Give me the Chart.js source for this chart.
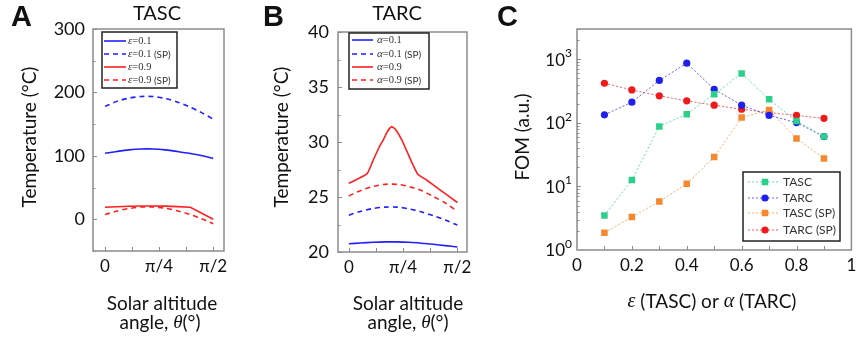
<!DOCTYPE html>
<html>
<head>
<meta charset="utf-8">
<script src="https://cdn.jsdelivr.net/npm/chart.js@4"></script>
<style>
body{margin:0;background:#fff;}
#page{position:relative;width:856px;height:345px;overflow:hidden;background:#fff;}
canvas{position:absolute;top:0;}
</style>
</head>
<body>
<div id="page">
<canvas id="chartA" width="290" height="345" style="left:0px"></canvas>
<canvas id="chartB" width="250" height="345" style="left:255px"></canvas>
<canvas id="chartC" width="366" height="345" style="left:490px"></canvas>
</div>
<script>
// A - TASC, temperature (°C) vs solar altitude (deg)
const thetaA=[0,10,20,30,40,50,60,70,80,90];
const tascBlue=[104,107,109.5,110.8,110.8,109.5,107,104,100.5,96];
const tascBlueSP=[178,186,191,193.5,193.5,190.5,185,177.5,168.5,158];
const thetaTascRed=[0,10,20,30,40,50,60,71,90];
const tascRed=[19,19.8,20.5,21,21,20.7,20,19,0];
const tascRedSP=[7.5,13,17,19.3,19.3,17.5,13.5,8,1,-7];

// B - TARC
const thetaB=[0,10,20,30,40,50,60,70,80,90];
const tarcBlue=[20.75,20.82,20.88,20.92,20.92,20.88,20.8,20.7,20.58,20.45];
const tarcBlueSP=[23.35,23.7,23.95,24.08,24.08,23.92,23.65,23.3,22.9,22.45];
const thetaTarcRed=[0,15,20,25,28.6,32,35.6,39,43.9,48,52,57,65,75,90];
const tarcRed=[26.25,27.1,28.3,29.5,30.2,30.95,31.4,31.1,30.2,29.2,28.2,27.1,26.5,25.7,24.5];
const tarcRedSP=[25.1,25.6,25.95,26.15,26.15,25.95,25.6,25.05,24.45,23.7];

// C - FOM vs epsilon / alpha
const fomX=[0.1,0.2,0.3,0.4,0.5,0.6,0.7,0.8,0.9];
const fomTASC=[3.5,12.6,88,137,283,600,235,107,61];
const fomTARC=[134,212,465,870,338,190,131,101,61];
const fomTASCSP=[1.87,3.3,5.8,11,29,121,160,57,27.5];
const fomTARCSP=[420,330,267,222,190,164,145,131,118];

const angleLabels={0:'0',45:'\u03c0/4',90:'\u03c0/2'};
const fomLabels={0:'0',0.2:'0.2',0.4:'0.4',0.6:'0.6',0.8:'0.8',1:'1'};

const SANS="Lato, 'Open Sans', sans-serif";
const SERIF="'Liberation Serif', 'DejaVu Serif', serif";
const BLUE='#2020ff', RED='#ff2020';

function pts(xs,ys){return xs.map((x,i)=>({x:x,y:ys[i]}));}

function drawParts(ctx,parts,x,y,align){
    let w=0;
    parts.forEach(p=>{ctx.font=p.f;w+=ctx.measureText(p.t).width;});
    let cx=align=='center'?x-w/2:(align=='right'?x-w:x);
    ctx.textAlign='left';
    parts.forEach(p=>{ctx.font=p.f;ctx.fillText(p.t,cx,y);cx+=ctx.measureText(p.t).width;});
}

function decor(cfg){
    return {
        id:'decor',
        afterDraw(chart){
            const ctx=chart.ctx, a=chart.chartArea, sx=chart.scales.x, sy=chart.scales.y;
            ctx.save();
            // inward ticks
            ctx.strokeStyle='#8c8c8c';
            ctx.lineWidth=1;
            ctx.beginPath();
            cfg.xTicks.forEach(v=>{const x=Math.round(sx.getPixelForValue(v))+0.5;ctx.moveTo(x,a.bottom);ctx.lineTo(x,a.bottom-4);});
            cfg.yTicks.forEach(v=>{const y=Math.round(sy.getPixelForValue(v))+0.5;ctx.moveTo(a.left,y);ctx.lineTo(a.left+4,y);});
            (cfg.yMinor||[]).forEach(v=>{const y=Math.round(sy.getPixelForValue(v))+0.5;ctx.moveTo(a.left,y);ctx.lineTo(a.left+2.5,y);});
            ctx.stroke();
            // frame
            ctx.lineWidth=1.5;
            ctx.strokeRect(a.left,a.top,a.right-a.left,a.bottom-a.top);

            ctx.fillStyle='#111';
            ctx.textBaseline='middle';
            // log tick labels 10^n
            if(cfg.logLabels){
                cfg.logLabels.forEach((v,k)=>{
                    const y=sy.getPixelForValue(v);
                    ctx.font='12px '+SANS;
                    const ew=ctx.measureText(String(k)).width;
                    ctx.textAlign='left';
                    ctx.fillText(String(k),a.left-5-ew,y-6);
                    ctx.font='17px '+SANS;
                    ctx.textAlign='right';
                    ctx.fillText('10',a.left-5-ew,y+1);
                });
            }
            // titles and labels
            cfg.texts.forEach(t=>{
                ctx.save();
                ctx.translate(t.x-cfg.ox,t.y);
                if(t.rot)ctx.rotate(-Math.PI/2);
                drawParts(ctx,t.parts,0,0,t.align||'center');
                ctx.restore();
            });
            // legend
            const L=cfg.legend;
            const bx=L.x-cfg.ox, by=L.y;
            ctx.fillStyle='#fff';
            ctx.fillRect(bx,by,L.w,L.h);
            ctx.strokeStyle='#222';
            ctx.lineWidth=1.5;
            ctx.strokeRect(bx,by,L.w,L.h);
            chart.data.datasets.forEach((ds,i)=>{
                const y=by+L.rows[i];
                ctx.strokeStyle=ds.borderColor;
                ctx.lineWidth=ds.borderWidth;
                ctx.setLineDash(ds.borderDash||[]);
                ctx.beginPath();
                ctx.moveTo(bx+L.l0,y);
                ctx.lineTo(bx+L.l1,y);
                ctx.stroke();
                ctx.setLineDash([]);
                if(ds.pointRadius>0){
                    ctx.fillStyle=ds.pointBackgroundColor;
                    const mx=bx+L.m;
                    if(ds.pointStyle=='rect'){
                        const s=ds.pointRadius*Math.SQRT1_2;
                        ctx.fillRect(mx-s,y-s,2*s,2*s);
                    }else{
                        ctx.beginPath();
                        ctx.arc(mx,y,ds.pointRadius,0,Math.PI*2);
                        ctx.fill();
                    }
                }
                ctx.fillStyle='#333';
                drawParts(ctx,L.labels[i],bx+L.t,y+0.5,'left');
            });
            ctx.restore();
        }
    };
}

function options(o){
    return {
        responsive:false,
        animation:false,
        events:[],
        layout:{padding:o.pad},
        plugins:{legend:{display:false},tooltip:{enabled:false}},
        elements:{point:{radius:0}},
        scales:{
            x:{
                type:'linear',min:o.xmin,max:o.xmax,
                grid:{display:false,drawTicks:false},
                border:{display:false},
                afterBuildTicks:s=>{s.ticks=o.xLabelTicks.map(v=>({value:v}));},
                afterFit:s=>{s.height=30;s.paddingLeft=0;s.paddingRight=0;},
                ticks:{autoSkip:false,maxRotation:0,padding:5,color:'#111',font:{family:SANS,size:17},callback:v=>o.xLabel[v]}
            },
            y:{
                type:o.ytype||'linear',min:o.ymin,max:o.ymax,
                grid:{display:false,drawTicks:false},
                border:{display:false},
                afterBuildTicks:s=>{s.ticks=o.yLabelTicks.map(v=>({value:v}));},
                afterFit:s=>{s.width=o.yw;s.paddingTop=0;s.paddingBottom=0;},
                ticks:{display:o.yTickShow,autoSkip:false,padding:o.ypad||8,color:'#111',font:{family:SANS,size:18}}
            }
        }
    };
}

function tempSet(xs,ys,color,dashed,tension){
    return {data:pts(xs,ys),borderColor:color,borderWidth:1.6,borderDash:dashed?[5,4]:[],pointRadius:0,tension:tension};
}

const leg=(sym,val,sp)=>{
    const p=[{t:sym,f:'italic 11px '+SERIF},{t:'='+val,f:'10.5px '+SERIF}];
    if(sp)p.push({t:' (SP)',f:'10px '+SANS});
    return p;
};
const T19='19px '+SANS;
const LETTER="bold 29px 'Liberation Sans', Arial, sans-serif";
const thetaLine=[{t:'angle, ',f:T19},{t:'\u03b8',f:'italic 19px '+SERIF},{t:'(\u00b0)',f:T19}];

// ---------- A ----------
new Chart(document.getElementById('chartA'),{
    type:'line',
    data:{datasets:[
        tempSet(thetaA,tascBlue,BLUE,false,0.3),
        tempSet(thetaA,tascBlueSP,BLUE,true,0.3),
        tempSet(thetaTascRed,tascRed,RED,false,0),
        tempSet(thetaA,tascRedSP,RED,true,0.3)
    ]},
    options:options({pad:{left:33,top:29,right:66,bottom:64},xmin:-10,xmax:99,ymin:-50,ymax:300,
        xLabelTicks:[0,45,90],xLabel:angleLabels,yLabelTicks:[0,100,200,300],yw:60,yTickShow:true}),
    plugins:[decor({ox:0,xTicks:[0,22.5,45,67.5,90],yTicks:[0,100,200,300],yMinor:[-50,50,150,250],
        texts:[
            {parts:[{t:'A',f:LETTER}],x:11,y:18,align:'left'},
            {parts:[{t:'TASC',f:'20px '+SANS}],x:157,y:14},
            {parts:[{t:'Temperature (\u00b0C)',f:T19}],x:30,y:137,rot:true},
            {parts:[{t:'Solar altitude',f:T19}],x:162,y:304},
            {parts:thetaLine,x:160,y:323}
        ],
        legend:{x:102,y:32,w:75,h:56,rows:[9,22,35,48],l0:2,l1:24,t:26,m:0,
            labels:[leg('\u03b5','0.1',false),leg('\u03b5','0.1',true),leg('\u03b5','0.9',false),leg('\u03b5','0.9',true)]}
    })]
});

// ---------- B ----------
new Chart(document.getElementById('chartB'),{
    type:'line',
    data:{datasets:[
        tempSet(thetaB,tarcBlue,BLUE,false,0.3),
        tempSet(thetaB,tarcBlueSP,BLUE,true,0.3),
        tempSet(thetaTarcRed,tarcRed,RED,false,0.15),
        tempSet(thetaB,tarcRedSP,RED,true,0.3)
    ]},
    options:options({pad:{left:33,top:32,right:38,bottom:63},xmin:-9,xmax:98,ymin:20,ymax:40,
        xLabelTicks:[0,45,90],xLabel:angleLabels,yLabelTicks:[20,25,30,35,40],yw:50,yTickShow:true,ypad:9}),
    plugins:[decor({ox:255,xTicks:[0,22.5,45,67.5,90],yTicks:[20,25,30,35,40],yMinor:[22.5,27.5,32.5,37.5],
        texts:[
            {parts:[{t:'B',f:LETTER}],x:263,y:18,align:'left'},
            {parts:[{t:'TARC',f:'20px '+SANS}],x:397,y:14},
            {parts:[{t:'Temperature (\u00b0C)',f:T19}],x:282,y:137,rot:true},
            {parts:[{t:'Solar altitude',f:T19}],x:408,y:304},
            {parts:thetaLine,x:408,y:323}
        ],
        legend:{x:349,y:33,w:80,h:56,rows:[7,21,34,47],l0:3,l1:24,t:28,m:0,
            labels:[leg('\u03b1','0.1',false),leg('\u03b1','0.1',true),leg('\u03b1','0.9',false),leg('\u03b1','0.9',true)]}
    })]
});

// ---------- C ----------
function fomSet(ys,color,style,r){
    return {data:pts(fomX,ys),borderColor:color+'b0',borderWidth:1,borderDash:[2,2],
        pointStyle:style,pointRadius:r,pointBackgroundColor:color,pointBorderWidth:0,tension:0};
}
const minorLog=[];
[1,10,100,1000].forEach(d=>{for(let k=2;k<=9;k++){if(d*k<=3000)minorLog.push(d*k);}});

new Chart(document.getElementById('chartC'),{
    type:'line',
    data:{datasets:[
        fomSet(fomTASC,'#2ccf8a','rect',4.6),
        fomSet(fomTARC,'#1f1fee','circle',3.6),
        fomSet(fomTASCSP,'#f5882e','rect',4.6),
        fomSet(fomTARCSP,'#f01a1a','circle',3.6)
    ]},
    options:options({pad:{left:37,top:29,right:3,bottom:65},xmin:0,xmax:1,ytype:'logarithmic',ymin:1,ymax:3000,
        xLabelTicks:[0,0.2,0.4,0.6,0.8,1],xLabel:fomLabels,yLabelTicks:[1,10,100,1000],yw:50,yTickShow:false}),
    plugins:[decor({ox:490,xTicks:[0.1,0.2,0.3,0.4,0.5,0.6,0.7,0.8,0.9],yTicks:[10,100,1000],yMinor:minorLog,
        logLabels:[1,10,100,1000],
        texts:[
            {parts:[{t:'C',f:LETTER}],x:497,y:18,align:'left'},
            {parts:[{t:'FOM (a.u.)',f:T19}],x:523,y:137,rot:true},
            {parts:[{t:'\u03b5',f:'italic 20px '+SERIF},{t:' (TASC) or ',f:T19},{t:'\u03b1',f:'italic 20px '+SERIF},{t:' (TARC)',f:T19}],x:712,y:302}
        ],
        legend:{x:743,y:172,w:97,h:69,rows:[10,26,41,58],l0:5,l1:36,m:22,t:40,
            labels:[[{t:'TASC',f:'12px '+SANS}],[{t:'TARC',f:'12px '+SANS}],[{t:'TASC (SP)',f:'12px '+SANS}],[{t:'TARC (SP)',f:'12px '+SANS}]]}
    })]
});
</script>
</body>
</html>
